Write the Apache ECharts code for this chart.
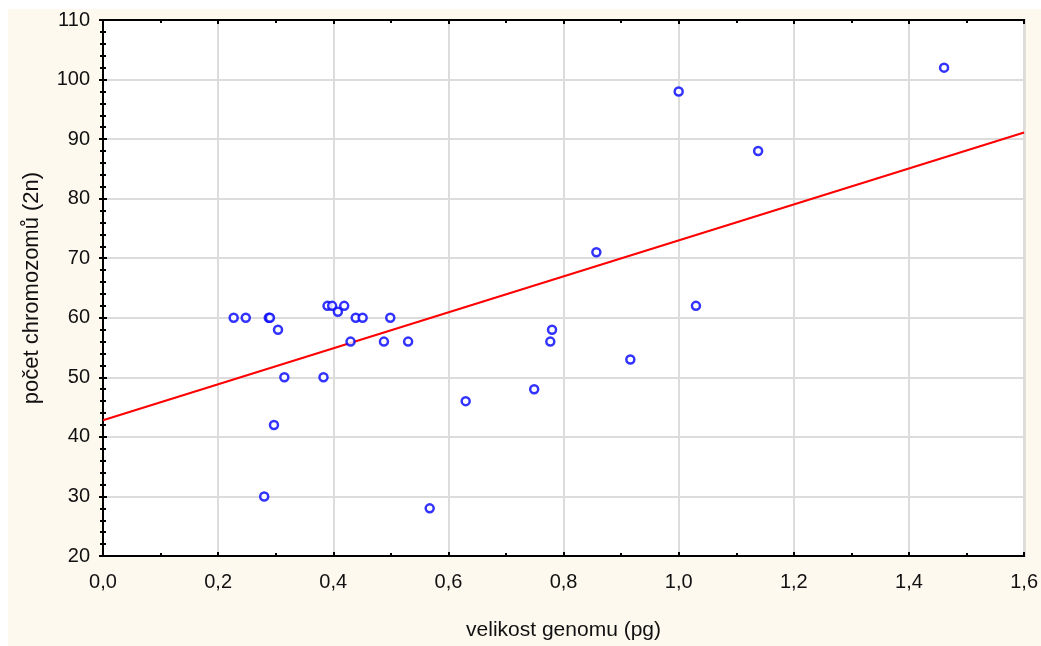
<!DOCTYPE html>
<html>
<head>
<meta charset="utf-8">
<script src="https://cdn.jsdelivr.net/npm/echarts@6/dist/echarts.min.js"></script>
<style>
    html, body { margin: 0; padding: 0; background: #fff; }
    #chart { position: absolute; left: 8px; top: 9px; width: 1033px; height: 637px; background: #fdf9ef; }
</style>
</head>
<body>
<div id="chart"></div>
<script>
    // genome size (pg) vs chromosome count (2n)
    var genomeSize = [0.227, 0.248, 0.288, 0.290, 0.304, 0.315, 0.383, 0.390, 0.398, 0.408,
        0.419, 0.439, 0.451, 0.430, 0.488, 0.499, 0.530, 0.297, 0.280, 0.5675,
        0.630, 0.749, 0.777, 0.780, 0.857, 0.916, 1.030, 1.000, 1.138, 1.461];
    var chromosomes = [60, 60, 60, 60, 58, 50, 50, 62, 62, 61,
        62, 60, 60, 56, 56, 60, 56, 42, 30, 28,
        46, 48, 56, 58, 71, 53, 62, 98, 88, 102];
    // regression line end points
    var fitX = [0, 1.6];
    var fitY = [42.8, 91.1];

    var points = genomeSize.map(function (x, i) { return [x, chromosomes[i]]; });
    var fit = fitX.map(function (x, i) { return [x, fitY[i]]; });

    var font = 'Liberation Sans, Arial, sans-serif';
    var chart = echarts.init(document.getElementById('chart'));

    function comma(v) { return v.toFixed(1).replace('.', ','); }

    var tickStyle = { show: true, inside: true, length: 4, lineStyle: { color: '#000', width: 2 } };
    var minorStyle = { show: true, length: 3, lineStyle: { color: '#000', width: 2 } };

    chart.setOption({
        animation: false,
        grid: {
            left: 95, top: 11, right: 16, bottom: 90,
            show: true, backgroundColor: '#fff', borderColor: '#000', borderWidth: 2
        },
        xAxis: [{
            type: 'value', min: 0, max: 1.6, interval: 0.2,
            name: 'velikost genomu (pg)', nameLocation: 'middle', nameGap: 64,
            nameTextStyle: { fontFamily: font, fontSize: 21, color: '#111' },
            axisLine: { show: true, lineStyle: { color: '#000', width: 2 } },
            axisTick: tickStyle,
            minorTick: Object.assign({ splitNumber: 2 }, minorStyle),
            axisLabel: { formatter: comma, fontFamily: font, fontSize: 20, color: '#111', margin: 16 },
            splitLine: { show: true, lineStyle: { color: '#dcdcdc', width: 2 } }
        }, {
            type: 'value', min: 0, max: 1.6, interval: 0.2, position: 'top',
            axisLine: { show: true, lineStyle: { color: '#000', width: 2 } },
            axisTick: tickStyle,
            minorTick: Object.assign({ splitNumber: 2 }, minorStyle),
            axisLabel: { show: false },
            splitLine: { show: false }
        }],
        yAxis: [{
            type: 'value', min: 20, max: 110, interval: 10,
            name: 'počet chromozomů (2n)', nameLocation: 'middle', nameGap: 60,
            nameTextStyle: { fontFamily: font, fontSize: 22, color: '#111' },
            axisLine: { show: true, lineStyle: { color: '#000', width: 2 } },
            axisTick: tickStyle,
            minorTick: Object.assign({ splitNumber: 5 }, minorStyle),
            axisLabel: { fontFamily: font, fontSize: 20, color: '#111', margin: 13 },
            splitLine: { show: true, lineStyle: { color: '#dcdcdc', width: 2 } }
        }, {
            type: 'value', min: 20, max: 110, interval: 10, position: 'right',
            axisLine: { show: true, lineStyle: { color: '#000', width: 2 } },
            axisTick: tickStyle,
            minorTick: Object.assign({ splitNumber: 5 }, minorStyle),
            axisLabel: { show: false },
            splitLine: { show: false }
        }],
        series: [{
            type: 'line',
            data: fit,
            showSymbol: false,
            lineStyle: { color: '#ff0000', width: 2 },
            z: 2
        }, {
            type: 'scatter',
            data: points,
            symbol: 'circle',
            symbolSize: 8,
            itemStyle: { color: '#fff', borderColor: '#0000ff', borderWidth: 2.5 },
            z: 3
        }]
    });
</script>
</body>
</html>
